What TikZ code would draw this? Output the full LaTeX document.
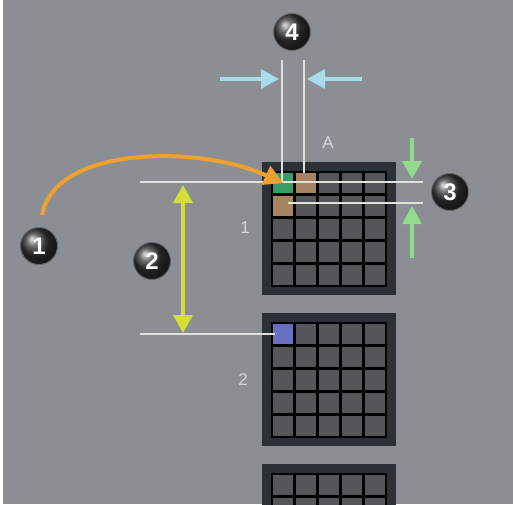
\documentclass[tikz,border=0pt]{standalone}
\usepackage{fontspec}
\setmainfont{Liberation Sans}
\usetikzlibrary{arrows.meta,shadings}
\definecolor{bg}{HTML}{8B8E93}
\definecolor{panelc}{HTML}{2C3138}
\definecolor{cellc}{HTML}{555658}
\definecolor{greenc}{HTML}{3A9A68}
\definecolor{tanc}{HTML}{A68462}
\definecolor{bluec}{HTML}{6670BE}
\definecolor{dimline}{HTML}{E2E2DA}
\definecolor{cyanc}{HTML}{A9DCEA}
\definecolor{greenarr}{HTML}{92DA8C}
\definecolor{yellowc}{HTML}{D6E034}
\definecolor{orangec}{HTML}{F0A030}
\definecolor{labelc}{HTML}{D4D6D8}
\tikzset{
  x=1pt,y=-1pt,
  panel/.style={fill=panelc,draw=none},
  gridbg/.style={fill=black,draw=none},
  cell/.style={fill=cellc,draw=none,minimum size=20pt,inner sep=0pt,anchor=north west,rectangle},
  dim/.style={draw=dimline,line width=1.2pt},
  ball/.style={circle,minimum size=37pt,inner sep=0pt,shading=ball,ball color=black!80,draw=black!60,line width=1pt,text=white,font=\bfseries\fontsize{24}{24}\selectfont},
  lbl/.style={text=labelc,font=\fontsize{17}{17}\selectfont,inner sep=0pt},
  cyanarr/.style={draw=cyanc,line width=3.5pt,-{Triangle[length=18pt,width=19pt]}},
  greenarrow/.style={draw=greenarr,line width=3.5pt,-{Triangle[length=18pt,width=19pt]}},
  yellowarr/.style={draw=yellowc,line width=3.5pt,{Triangle[length=18pt,width=19pt]}-{Triangle[length=18pt,width=19pt]}},
  orangearr/.style={draw=orangec,line width=4pt,-{Triangle[length=19pt,width=20pt]}},
}
\begin{document}
\begin{tikzpicture}
\useasboundingbox (0,0) rectangle (513,504);
\fill[bg] (0,0) rectangle (513,504);
\fill[white] (0,0) rectangle (3,504);
% panels
\begin{scope}
\clip (0,0) rectangle (513,504);
\foreach \p/\yy in {1/162,2/313,3/464}{
  \fill[panel] (262,\yy) rectangle (396,\yy+133);
  \fill[gridbg] (271,\yy+9) rectangle (387,\yy+125);
  \foreach \i in {0,...,4}{
    \foreach \j in {0,...,4}{
      \node[cell] (c\p-\j-\i) at (273+23*\i,\yy+11+23*\j) {};
    }
  }
}
\end{scope}
% highlighted cells
\node[cell,fill=greenc] at (c1-0-0.north west) {};
\node[cell,fill=tanc] at (c1-0-1.north west) {};
\node[cell,fill=tanc] at (c1-1-0.north west) {};
\node[cell,fill=bluec] at (c2-0-0.north west) {};
% labels
\node[lbl] (lA) at (328,143) {A};
\node[lbl] (l1) at (245,228) {1};
\node[lbl] (l2) at (243,380) {2};
% dimension lines
\coordinate (v1t) at (282,60);
\coordinate (v2t) at (304,60);
\draw[dim] (v1t) -- (282,182);
\draw[dim] (v2t) -- (304,173);
\coordinate (h1l) at (140,182);
\coordinate (h1r) at (423,182);
\coordinate (h2l) at (288,203);
\coordinate (h2r) at (423,203);
\coordinate (h3l) at (140,334);
\coordinate (h3r) at (275,334);
\draw[dim] (h1l) -- (h1r);
\draw[dim] (h2l) -- (h2r);
\draw[dim] (h3l) -- (h3r);
% arrows
\coordinate (ca1) at (220,79);
\coordinate (ca1e) at (279,79);
\coordinate (ca2) at (362,79);
\coordinate (ca2e) at (307,79);
\draw[cyanarr] (ca1) -- (ca1e);
\draw[cyanarr] (ca2) -- (ca2e);
\coordinate (ga1) at (412,138);
\coordinate (ga1e) at (412,179);
\coordinate (ga2) at (412,258);
\coordinate (ga2e) at (412,206);
\draw[greenarrow] (ga1) -- (ga1e);
\draw[greenarrow] (ga2) -- (ga2e);
\coordinate (ya1) at (183,185);
\coordinate (ya2) at (183,333);
\draw[yellowarr] (ya1) -- (ya2);
% balls
\node[ball] (b1) at (39,246) {1};
\node[ball] (b2) at (152,261) {2};
\node[ball] (b3) at (450,192) {3};
\node[ball] (b4) at (292,32) {4};
% orange curve
\draw[orangearr] (b1.north) ++(3,-12) .. controls (55,145) and (200,145) .. (c1-0-0.center);
\end{tikzpicture}
\end{document}
